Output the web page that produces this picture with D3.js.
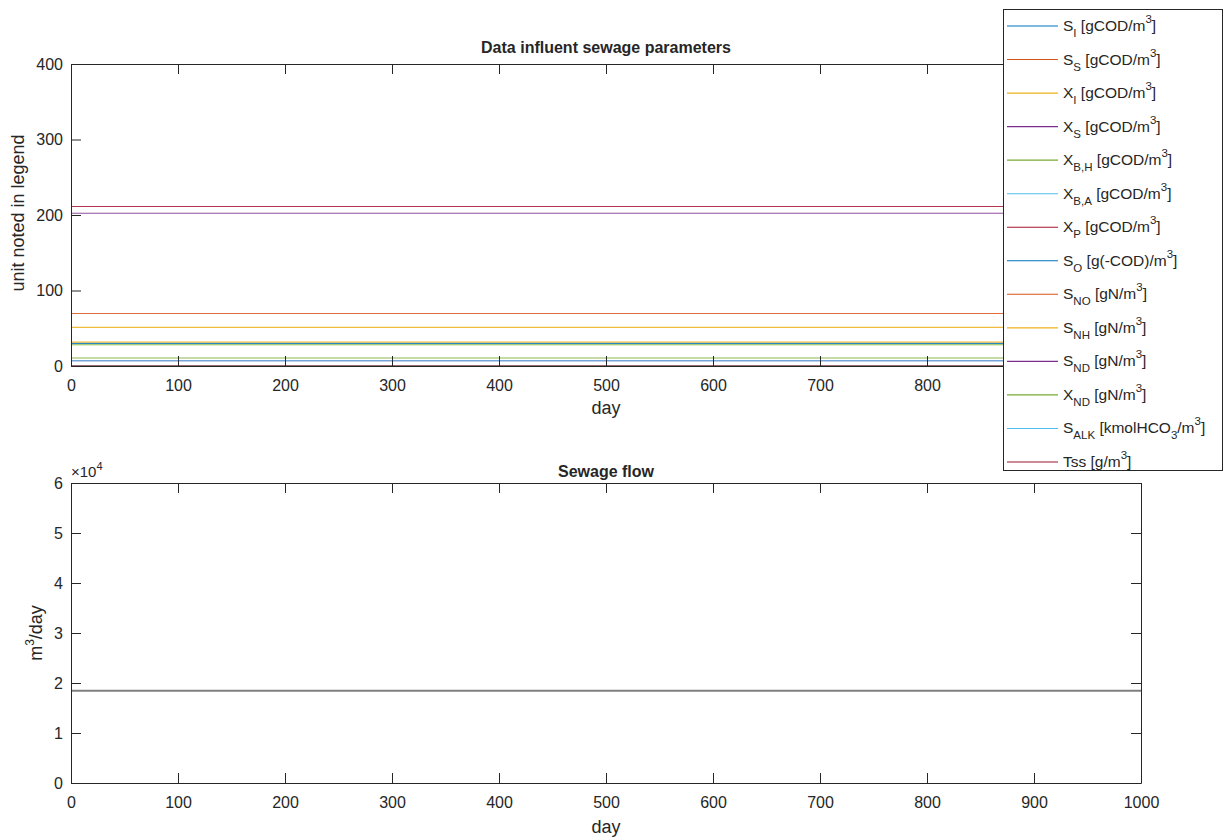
<!DOCTYPE html>
<html>
<head>
<meta charset="utf-8">
<script src="https://cdn.jsdelivr.net/npm/d3@7"></script>
<style>
  body { margin: 0; background: #fff; }
  text { font-family: "Liberation Sans", Arial, sans-serif; fill: #262626; }
</style>
</head>
<body>
<div id="chart"></div>
<script>
// Simulation days (start and end of the constant influent record)
var days = [0, 1000];

// Influent sewage parameters, constant over the run
var paramLabels = [
    "S_{I} [gCOD/m^{3}]", "S_{S} [gCOD/m^{3}]", "X_{I} [gCOD/m^{3}]", "X_{S} [gCOD/m^{3}]",
    "X_{B,H} [gCOD/m^{3}]", "X_{B,A} [gCOD/m^{3}]", "X_{P} [gCOD/m^{3}]", "S_{O} [g(-COD)/m^{3}]",
    "S_{NO} [gN/m^{3}]", "S_{NH} [gN/m^{3}]", "S_{ND} [gN/m^{3}]", "X_{ND} [gN/m^{3}]",
    "S_{ALK} [kmolHCO_{3}/m^{3}]", "Tss [g/m^{3}]"
];
var paramValues = [30, 69.5, 51.2, 202.32, 28.17, 0, 0, 0, 0, 31.56, 6.95, 10.59, 7, 211.27];

// Sewage flow [m3/day]
var flowValues = [18446, 18446];

var xTicks = [0, 100, 200, 300, 400, 500, 600, 700, 800, 900, 1000];
var yTicksTop = [0, 100, 200, 300, 400];
var yTicksBottom = [0, 10000, 20000, 30000, 40000, 50000, 60000];

// MATLAB default line colour order
var colorOrder = ["#0072BD", "#D95319", "#EDB120", "#7E2F8E", "#77AC30", "#4DBEEE", "#A2142F"];

var W = 1230, H = 838;
var axisColor = "#262626";
var legendLeft = 1003;

var svg = d3.select("#chart").append("svg")
    .attr("width", W)
    .attr("height", H);

var x = d3.scaleLinear().domain([0, 1000]).range([71, 1141]);
var yTop = d3.scaleLinear().domain([0, 400]).range([366, 64]);
var yBot = d3.scaleLinear().domain([0, 60000]).range([783, 483]);

// draws a boxed MATLAB-style axes with inward ticks on all four sides
function drawAxes(y, yTicks, yFormat, xLabelTicks) {
    var g = svg.append("g");
    var x0 = x.range()[0], x1 = x.range()[1];
    var y0 = y.range()[0], y1 = y.range()[1];

    g.append("g")
        .attr("transform", "translate(0," + y0 + ")")
        .call(d3.axisBottom(x).tickValues(xTicks).tickSizeInner(-10).tickSizeOuter(0).tickPadding(14)
            .tickFormat(function(d) { return xLabelTicks.indexOf(d) >= 0 ? d : ""; }));
    g.append("g")
        .attr("transform", "translate(0," + y1 + ")")
        .call(d3.axisTop(x).tickValues(xTicks).tickSizeInner(-10).tickSizeOuter(0).tickFormat(""));
    g.append("g")
        .attr("transform", "translate(" + x0 + ",0)")
        .call(d3.axisLeft(y).tickValues(yTicks).tickSizeInner(-10).tickSizeOuter(0).tickPadding(8).tickFormat(yFormat));
    g.append("g")
        .attr("transform", "translate(" + x1 + ",0)")
        .call(d3.axisRight(y).tickValues(yTicks).tickSizeInner(-10).tickSizeOuter(0).tickFormat(""));

    g.selectAll(".domain").attr("stroke", axisColor);
    g.selectAll(".tick line").attr("stroke", axisColor);
    g.selectAll(".tick text")
        .style("font-family", "Liberation Sans, Arial, sans-serif")
        .style("font-size", "16px")
        .attr("fill", axisColor);
    return g;
}

// ---- top axes: influent parameters
var plotTop = svg.append("g");
var line = d3.line()
    .x(function(d) { return x(d[0]); });

paramValues.forEach(function(v, i) {
    plotTop.append("path")
        .datum(days.map(function(d) { return [d, v]; }))
        .attr("fill", "none")
        .attr("stroke", colorOrder[i % colorOrder.length])
        .attr("stroke-width", 1.1)
        .attr("stroke-opacity", 0.85)
        .attr("d", line.y(function(d) { return yTop(d[1]); }));
});
// labels of the last ticks sit under the legend, as in the original
drawAxes(yTop, yTicksTop, d3.format("d"), xTicks.filter(function(d) { return x(d) + 20 < legendLeft; }));

svg.append("text")
    .attr("x", 606).attr("y", 53)
    .attr("text-anchor", "middle")
    .style("font-size", "16px").style("font-weight", "bold")
    .text("Data influent sewage parameters");

svg.append("text")
    .attr("x", 606).attr("y", 414)
    .attr("text-anchor", "middle")
    .style("font-size", "18px")
    .text("day");

svg.append("text")
    .attr("transform", "translate(24,213) rotate(-90)")
    .attr("text-anchor", "middle")
    .style("font-size", "18px")
    .text("unit noted in legend");

// ---- bottom axes: sewage flow
svg.append("path")
    .datum(days.map(function(d, i) { return [d, flowValues[i]]; }))
    .attr("fill", "none")
    .attr("stroke", "#7f7f7f")
    .attr("stroke-width", 2)
    .attr("d", d3.line()
        .x(function(d) { return x(d[0]); })
        .y(function(d) { return yBot(d[1]); }));

drawAxes(yBot, yTicksBottom, function(d) { return d / 10000; }, xTicks);

var expo = svg.append("text")
    .attr("x", 71).attr("y", 477)
    .style("font-size", "15px");
expo.append("tspan").text("\u00d710");
expo.append("tspan").attr("dy", -7).style("font-size", "11px").text("4");

svg.append("text")
    .attr("x", 606).attr("y", 477)
    .attr("text-anchor", "middle")
    .style("font-size", "16px").style("font-weight", "bold")
    .text("Sewage flow");

svg.append("text")
    .attr("x", 606).attr("y", 833)
    .attr("text-anchor", "middle")
    .style("font-size", "18px")
    .text("day");

var ylab = svg.append("text")
    .attr("transform", "translate(42,633) rotate(-90)")
    .attr("text-anchor", "middle")
    .style("font-size", "18px");
ylab.append("tspan").text("m");
ylab.append("tspan").attr("dy", -8).style("font-size", "12px").text("3");
ylab.append("tspan").attr("dy", 8).text("/day");

// ---- legend
var legend = svg.append("g");
legend.append("rect")
    .attr("x", legendLeft + 0.5).attr("y", 9.5)
    .attr("width", 219).attr("height", 461)
    .attr("fill", "#fff")
    .attr("stroke", axisColor);

var legY = d3.scalePoint()
    .domain(d3.range(paramLabels.length))
    .range([26, 462]);

// "S_{I} [gCOD/m^{3}]" -> text with sub/superscript tspans
function richText(sel, str) {
    var re = /([_^])\{([^}]*)\}|([^_^]+)/g, m, shift = 0;
    while ((m = re.exec(str)) !== null) {
        if (m[3]) {
            sel.append("tspan").attr("dy", -shift).text(m[3]);
            shift = 0;
        } else {
            var d = m[1] === "_" ? 6 : -8;
            sel.append("tspan").attr("dy", d - shift)
                .style("font-size", "11.5px").text(m[2]);
            shift = d;
        }
    }
}

paramLabels.forEach(function(lbl, i) {
    var yy = legY(i);
    legend.append("line")
        .attr("x1", 1007).attr("x2", 1058)
        .attr("y1", yy).attr("y2", yy)
        .attr("stroke", colorOrder[i % colorOrder.length])
        .attr("stroke-width", 1.1);
    var t = legend.append("text")
        .attr("x", 1063).attr("y", yy + 5)
        .style("font-size", "15.5px");
    richText(t, lbl);
});
</script>
</body>
</html>
